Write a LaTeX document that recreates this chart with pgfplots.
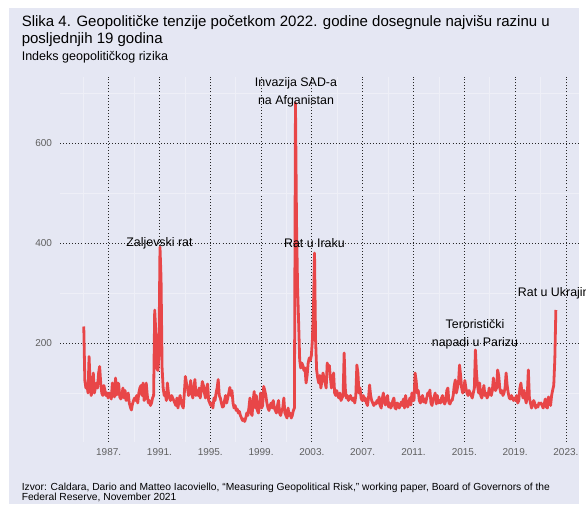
\documentclass[border=0pt]{standalone}
\usepackage{pgfplots}
\pgfplotsset{compat=1.18}
\usepackage{pgfplotstable}
\usepackage{fontspec}
\setmainfont{Liberation Sans}
\definecolor{bg}{RGB}{229,231,243}
\definecolor{gprred}{RGB}{232,70,72}
\definecolor{ticklab}{RGB}{95,95,95}

% Monthly geopolitical risk index, Jan 1985 - Mar 2022
\pgfplotstableread[row sep=\\]{
gpr\\
233\\125\\110\\118\\100\\173\\120\\95\\105\\140\\100\\110\\
120\\110\\140\\153\\120\\100\\95\\115\\105\\95\\100\\90\\
100\\95\\88\\120\\110\\92\\130\\96\\120\\118\\92\\88\\
95\\110\\90\\105\\85\\90\\100\\80\\72\\66\\78\\85\\
90\\85\\95\\80\\100\\110\\115\\95\\120\\85\\90\\120\\
95\\80\\85\\75\\80\\90\\95\\266\\225\\150\\145\\175\\
392\\330\\150\\110\\95\\100\\85\\120\\100\\90\\85\\95\\
90\\85\\80\\75\\90\\70\\85\\95\\80\\75\\70\\100\\
133\\120\\110\\95\\100\\125\\100\\90\\110\\127\\95\\105\\
95\\110\\90\\105\\123\\115\\100\\90\\110\\118\\85\\80\\
75\\80\\70\\90\\85\\100\\110\\127\\95\\90\\80\\72\\
73\\85\\95\\80\\90\\100\\111\\95\\105\\80\\70\\75\\
65\\68\\60\\63\\55\\50\\45\\48\\43\\50\\60\\55\\
70\\90\\60\\55\\85\\103\\70\\95\\65\\60\\75\\100\\
70\\75\\113\\105\\95\\80\\70\\65\\75\\80\\70\\85\\
70\\65\\60\\75\\85\\60\\55\\65\\70\\90\\60\\55\\
50\\70\\55\\60\\50\\55\\65\\70\\680\\440\\310\\240\\
165\\150\\160\\155\\145\\150\\120\\135\\160\\170\\165\\175\\
206\\270\\380\\206\\146\\130\\120\\135\\110\\125\\140\\130\\
120\\110\\160\\150\\155\\130\\110\\125\\140\\100\\95\\105\\
95\\90\\100\\85\\90\\95\\180\\110\\90\\95\\85\\90\\
95\\88\\85\\90\\80\\95\\156\\140\\100\\110\\90\\85\\
95\\85\\90\\80\\75\\90\\116\\95\\85\\80\\75\\80\\
78\\85\\80\\92\\75\\70\\88\\100\\82\\76\\90\\95\\
72\\80\\70\\75\\85\\90\\70\\68\\80\\78\\70\\75\\
82\\75\\88\\70\\95\\80\\72\\78\\90\\76\\100\\85\\
85\\140\\125\\100\\105\\85\\80\\90\\95\\82\\88\\80\\
90\\100\\95\\106\\80\\75\\88\\92\\100\\78\\95\\80\\
85\\80\\90\\95\\82\\78\\85\\105\\110\\80\\78\\85\\
85\\95\\115\\126\\100\\110\\120\\156\\135\\110\\100\\105\\
125\\110\\100\\95\\105\\100\\95\\90\\100\\110\\186\\140\\
115\\100\\120\\95\\90\\100\\115\\95\\100\\90\\95\\110\\
100\\95\\105\\130\\110\\105\\110\\146\\135\\110\\100\\105\\
95\\100\\110\\140\\115\\100\\90\\88\\95\\90\\85\\90\\
85\\95\\80\\85\\110\\120\\100\\90\\105\\90\\80\\95\\
146\\90\\80\\70\\75\\85\\80\\70\\75\\72\\80\\78\\
80\\75\\70\\78\\88\\72\\70\\92\\85\\75\\95\\106\\
115\\166\\266\\
}\gprdata

\begin{document}
\begin{tikzpicture}[x=0.75pt,y=0.75pt]
\useasboundingbox (0,0) rectangle (586,504);
\fill[white] (0,0) rectangle (586,504);
\fill[bg] (9,0) rectangle (579,496);
\node[anchor=base west, inner sep=0, font=\fontsize{11.25}{13}\selectfont] at (21.5,477) {Slika 4. Geopolitičke tenzije početkom 2022. godine dosegnule najvišu razinu u};
\node[anchor=base west, inner sep=0, font=\fontsize{11.25}{13}\selectfont] at (21.5,460) {posljednjih 19 godina};
\node[anchor=base west, inner sep=0, font=\fontsize{9.4}{11}\selectfont] at (21.5,443) {Indeks geopolitičkog rizika};
\node[anchor=base west, inner sep=0, font=\fontsize{7.7}{9}\selectfont] at (21.5,13.5) {Izvor: Caldara, Dario and Matteo Iacoviello, “Measuring Geopolitical Risk,” working paper, Board of Governors of the};
\node[anchor=base west, inner sep=0, font=\fontsize{7.7}{9}\selectfont] at (21.5,3.5) {Federal Reserve, November 2021};
\begin{axis}[
  at={(45pt,46.5pt)}, anchor=south west,
  scale only axis, width=389.25pt, height=273.75pt,
  xmin=1983.17, xmax=2024.03, ymin=2, ymax=732,
  clip=false,
  axis line style={draw=none},
  major tick length=0pt, minor tick length=0pt,
  /pgf/number format/assume math mode=true,
  xtick={1987,1991,1995,1999,2003,2007,2011,2015,2019,2023},
  xticklabels={\mbox{1987.},\mbox{1991.},\mbox{1995.},\mbox{1999.},\mbox{2003.},\mbox{2007.},\mbox{2011.},\mbox{2015.},\mbox{2019.},\mbox{2023.}},
  minor xtick={1985,1989,1993,1997,2001,2005,2009,2013,2017,2021},
  ytick={200,400,600},
  minor ytick={100,300,500,700},
  grid=both,
  major grid style={black!85, line width=0.6pt, dash pattern=on 0.7pt off 1.6pt},
  minor grid style={white!35!bg, line width=0.5pt},
  tick label style={font=\fontsize{7.5}{9}\selectfont, text=ticklab},
  xticklabel style={yshift=-1.5pt},
  yticklabel style={xshift=-2.5pt},
]
\addplot[gprred, line width=2.1pt, line join=round] table[x expr=1985+(\coordindex+0.5)/12, y=gpr] {\gprdata};
\node[font=\fontsize{9.3}{11}\selectfont] at (axis cs:1991,400) {Zaljevski rat};
\node[font=\fontsize{9.3}{11}\selectfont] at (axis cs:2003.2,400) {Rat u Iraku};
\node[font=\fontsize{9.3}{11}\selectfont] at (axis cs:2001.75,720) {Invazija SAD-a};
\node[font=\fontsize{9.3}{11}\selectfont] at (axis cs:2001.75,683) {na Afganistan};
\node[font=\fontsize{9.3}{11}\selectfont] at (axis cs:2015.84,238) {Teroristički};
\node[font=\fontsize{9.3}{11}\selectfont] at (axis cs:2015.84,200) {napadi u Parizu};
\node[font=\fontsize{9.3}{11}\selectfont, anchor=west, inner sep=0] at (axis cs:2019.2,300) {Rat u Ukrajini};
\end{axis}
\end{tikzpicture}
\end{document}
